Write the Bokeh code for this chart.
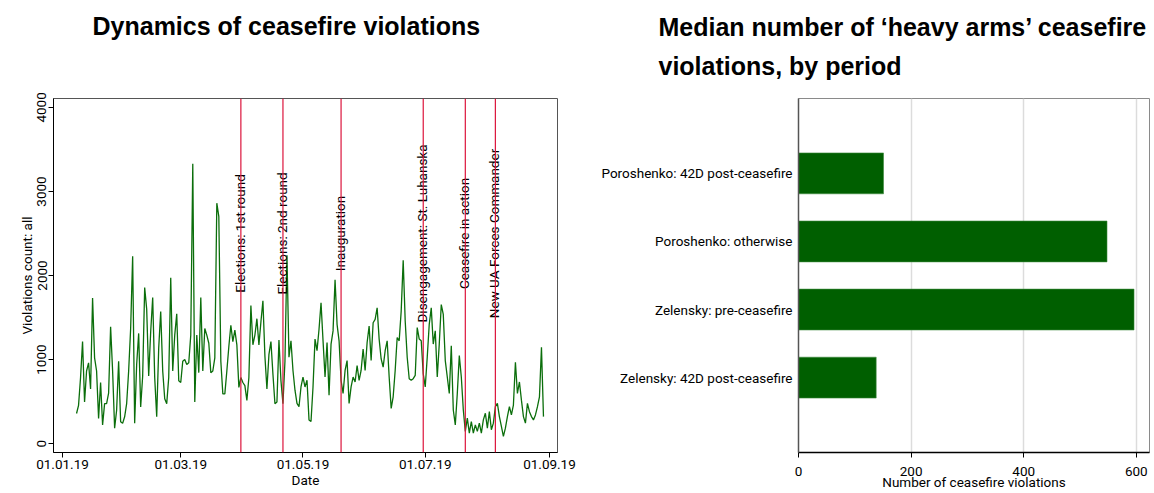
import math
import pandas as pd
from bokeh.plotting import figure
from bokeh.models import (Range1d, FixedTicker, DatetimeTickFormatter, Span, Title,
                          FactorRange)
from bokeh.layouts import row
from bokeh.embed import file_html
from bokeh.resources import INLINE
from bokeh.core.properties import value

# ---------------- data ----------------
START_DATE = "2019-01-08"  # first daily observation
violations = [
    358, 455, 786, 1214, 494, 864, 961, 650, 1731, 1020, 864, 300, 727, 222,
    475, 475, 600, 1389, 864, 183, 397, 980, 261, 241,
    319, 475, 864, 1369, 2230, 241, 941, 1311, 436, 805,
    1856, 1600, 805, 1330, 1739, 786, 319, 1136, 1572, 864,
    533, 475, 786, 1972, 864, 1291, 1544, 747, 727, 980,
    1000, 941, 961, 1291, 3330, 495, 1291, 844, 1739, 864,
    1369, 1291, 1194, 844, 864, 1019, 2860, 2700, 980, 591,
    591, 864, 1155, 1408, 1214, 1350, 1175, 669, 786, 727,
    689, 514, 786, 1642, 1175, 1291, 1486, 1175, 1447, 1700,
    1039, 650, 1058, 1214, 825, 475, 494, 1233, 747, 475,
    980, 2240, 1027, 1223, 870, 635, 478, 439, 674, 792,
    674, 753, 282, 263, 674, 1243, 1105, 1360, 1674, 1223,
    792, 1203, 576, 1184, 1341, 1948, 1419, 1223, 753, 596,
    870, 988, 478, 674, 792, 733, 929, 753, 870, 1125,
    870, 1203, 1399, 988, 1438, 1478, 1615, 1243, 1007, 909,
    1105, 1223, 792, 419, 557, 870, 1262, 1223, 1576, 2180,
    1458, 1027, 772, 753, 772, 811, 1380, 1243, 1223, 831,
    674, 1027, 1419, 1615, 1184, 1341, 792, 1184, 1654, 1537,
    988, 792, 596, 1164, 400, 223, 596, 1047, 792, 400,
    145, 302, 125, 263, 125, 223, 145, 243, 125, 282,
    361, 184, 380, 165, 243, 439, 478, 321, 204, 86,
    184, 321, 439, 341, 459, 968, 596, 733, 517, 321,
    243, 478, 380, 321, 282, 341, 439, 557, 1145, 321,
]
dates = pd.date_range(START_DATE, periods=len(violations), freq="D")

event_dates = ["2019-03-31", "2019-04-21", "2019-05-20", "2019-06-30", "2019-07-21", "2019-08-05"]
event_labels = ["Elections: 1st round", "Elections: 2nd round", "Inauguration",
                "Disengagement: St. Luhanska", "Ceasefire in action", "New UA Forces Commander"]
event_label_value = 2500

x_tick_dates = ["2019-01-01", "2019-03-01", "2019-05-01", "2019-07-01", "2019-09-01"]
y_ticks = [0, 1000, 2000, 3000, 4000]

periods = ["Poroshenko: 42D post-ceasefire", "Poroshenko: otherwise",
           "Zelensky: pre-ceasefire", "Zelensky: 42D post-ceasefire"]
medians = [151, 548, 596, 138]
bar_ticks = [0, 200, 400, 600]

# ---------------- style ----------------
AX_FONT = "Roboto"
TITLE_FONT = "Liberation Sans"
AX_SIZE = "13.5px"


def style_title(t, offset, standoff):
    t.align = "left"
    t.offset = offset
    t.standoff = standoff
    t.text_font = TITLE_FONT
    t.text_font_size = "25px"
    t.text_font_style = "bold"
    t.text_color = "black"


def style_axes(axes):
    for ax in axes:
        ax.major_label_text_font = AX_FONT
        ax.major_label_text_font_size = AX_SIZE
        ax.major_label_text_color = "black"
        ax.axis_label_text_font = AX_FONT
        ax.axis_label_text_font_size = AX_SIZE
        ax.axis_label_text_font_style = "normal"
        ax.axis_label_text_color = "black"
        ax.minor_tick_line_color = None


# ---------------- left chart ----------------
p1 = figure(width=585, height=493, x_axis_type="datetime",
            x_range=Range1d(pd.Timestamp("2018-12-27 12:00"), pd.Timestamp("2019-09-05")),
            y_range=Range1d(-106, 4106),
            output_backend="svg", toolbar_location=None,
            min_border_left=53, min_border_right=28, min_border_top=95, min_border_bottom=40,
            title="Dynamics of ceasefire violations")
style_title(p1.title, 39, 10)
p1.add_layout(Title(text="\u00a0", text_font_size="46px", standoff=0), "above")

p1.line(dates, violations, line_color="#0b6e0b", line_width=1.3)

for d in event_dates:
    p1.add_layout(Span(location=pd.Timestamp(d), dimension="height",
                       line_color="#dc143c", line_width=1.2))

p1.text(x=[pd.Timestamp(d) for d in event_dates], y=[event_label_value] * len(event_dates),
        text=event_labels, angle=math.pi / 2, text_align="center",
        text_baseline="alphabetic", text_font=value(AX_FONT), text_font_size="13.5px",
        text_color="black", x_offset=-1)

p1.xaxis.ticker = FixedTicker(ticks=[pd.Timestamp(d).timestamp() * 1000 for d in x_tick_dates])
fmt = "%d.%m.%y"
p1.xaxis.formatter = DatetimeTickFormatter(days=fmt, months=fmt, years=fmt, hours=fmt,
                                           hourmin=fmt, minutes=fmt, minsec=fmt,
                                           seconds=fmt, milliseconds=fmt, microseconds=fmt)
p1.yaxis.ticker = FixedTicker(ticks=y_ticks)
p1.yaxis.major_label_orientation = "vertical"
p1.xaxis.axis_label = "Date"
p1.yaxis.axis_label = "Violations count: all"
style_axes((p1.xaxis, p1.yaxis))
for ax in (p1.xaxis, p1.yaxis):
    ax.major_tick_out = 5
    ax.major_tick_in = 0
    ax.major_label_standoff = 2
    ax.axis_line_color = "black"
    ax.major_tick_line_color = "black"
p1.yaxis.axis_label_standoff = 0
p1.xaxis.axis_label_standoff = 0
p1.grid.visible = False
p1.outline_line_color = "#555555"

# ---------------- right chart ----------------
p2 = figure(width=569, height=493,
            y_range=FactorRange(factors=periods[::-1], range_padding=0.3),
            x_range=Range1d(0, 623.5),
            output_backend="svg", toolbar_location=None,
            min_border_left=213, min_border_right=5, min_border_top=98, min_border_bottom=41,
            title="Median number of \u2018heavy arms\u2019 ceasefire")
style_title(p2.title, -140, 18)
# panels added "above" stack outward from the frame: spacer first, then 2nd title line
p2.add_layout(Title(text="\u00a0", text_font_size="16px", standoff=0), "above")
t2 = Title(text="violations, by period")
style_title(t2, -140, 0)
p2.add_layout(t2, "above")

p2.hbar(y=periods, right=medians, height=0.6, fill_color="#005f00",
        line_color="#3d8a3d", line_width=0.6)

p2.xaxis.ticker = FixedTicker(ticks=bar_ticks)
p2.xgrid.ticker = FixedTicker(ticks=bar_ticks)
p2.xgrid.grid_line_color = "#dcdcdc"
p2.xgrid.grid_line_width = 1.5
p2.ygrid.visible = False
p2.xaxis.axis_label = "Number of ceasefire violations"
style_axes((p2.xaxis, p2.yaxis))
p2.xaxis.major_tick_out = 5
p2.xaxis.major_tick_in = 0
p2.xaxis.major_label_standoff = 9
p2.xaxis.axis_label_standoff = -5
p2.xaxis.axis_line_color = "black"
p2.xaxis.axis_line_width = 1.5
p2.yaxis.major_tick_line_color = None
p2.yaxis.major_tick_out = 0
p2.yaxis.major_tick_in = 0
p2.yaxis.major_label_standoff = 6
p2.yaxis.axis_line_color = "#555555"
p2.yaxis.axis_line_width = 1.5
p2.outline_line_color = "#8a8a8a"

layout = row(p1, p2)
open("out.html", "w").write(file_html(layout, INLINE))
